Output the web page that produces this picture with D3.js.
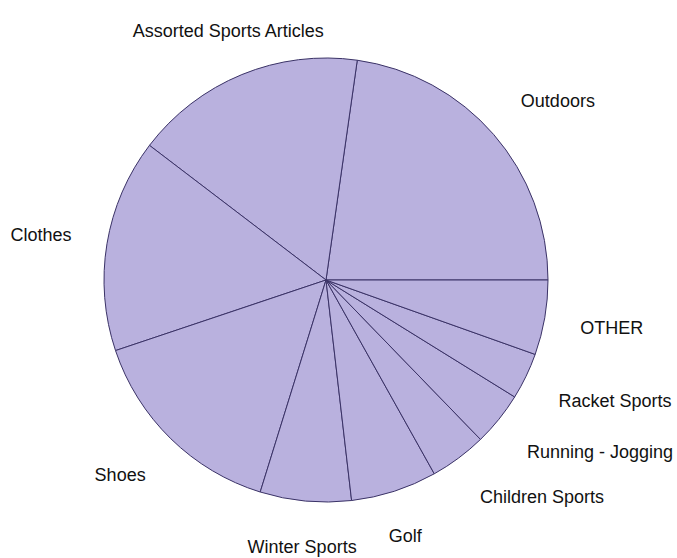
<!DOCTYPE html>
<html><head><meta charset="utf-8">
<script src="https://cdn.jsdelivr.net/npm/d3@7"></script>
<style>html,body{margin:0;padding:0;background:#fff;}svg{display:block;}</style>
</head><body>
<script>
const categories = ["Outdoors","Assorted Sports Articles","Clothes","Shoes","Winter Sports","Golf","Children Sports","Running - Jogging","Racket Sports","OTHER"];
const values = [22.75, 16.88, 15.52, 15.06, 6.63, 6.27, 4.14, 3.92, 3.39, 5.44];

const W = 677, H = 558, cx = 326, cy = 280, r = 222, labelR = 258;
const svg = d3.select("body").append("svg").attr("width", W).attr("height", H);
const g = svg.append("g").attr("transform", `translate(${cx},${cy})`);

const pie = d3.pie().sort(null).value(d => d.v).startAngle(Math.PI/2).endAngle(Math.PI/2 - 2*Math.PI);
const arcs = pie(categories.map((c,i)=>({c, v: values[i]})));
const arc = d3.arc().innerRadius(0).outerRadius(r);

g.selectAll("path").data(arcs).enter().append("path")
  .attr("d", arc).attr("fill", "#b9b1de").attr("stroke", "#3a3266").attr("stroke-width", 1)
  .attr("stroke-linejoin","round");

const fs = 18, asc = 0.905*fs, desc = 0.212*fs, h = asc+desc;
arcs.forEach(a => {
  const m = (a.startAngle + a.endAngle)/2;
  const c = Math.sin(m), s = Math.cos(m); // c: cos (x), s: sin (up)
  const px = labelR*c, py = -labelR*s;
  const t = g.append("text").text(a.data.c)
    .attr("font-family","'Liberation Sans', Arial, sans-serif").attr("font-size", fs).attr("fill","#111");
  const w = t.node().getComputedTextLength();
  const fx = c > 0.5 ? 0 : (c < -0.5 ? 1 : 0.5);
  const fy = Math.max(0, Math.min(1, (1 + 2*s)/2));
  const left = px - w*fx, top = py - h*fy;
  t.attr("x", left).attr("y", top + asc);
});
</script>
</body></html>
